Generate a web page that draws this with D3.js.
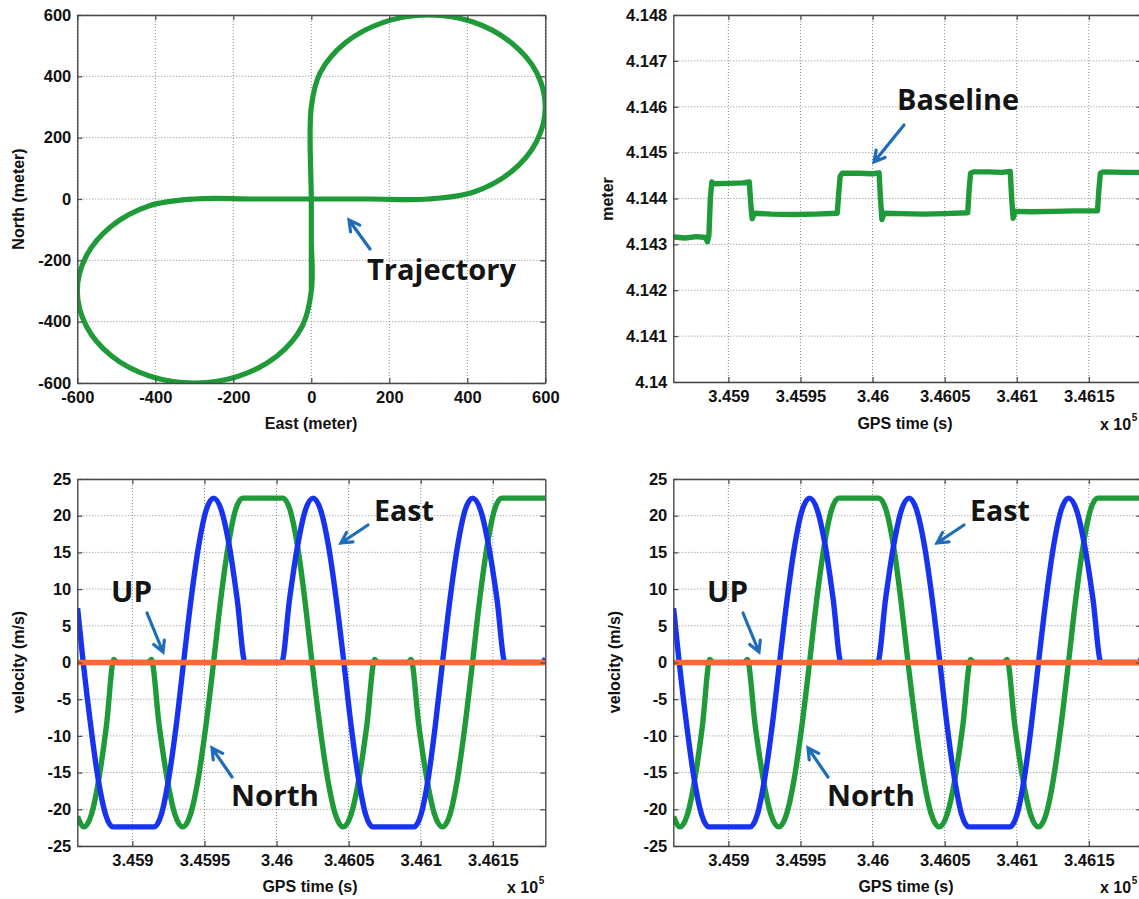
<!DOCTYPE html>
<html>
<head>
<meta charset="utf-8">
<script src="https://cdn.jsdelivr.net/npm/d3@7"></script>
<style>
  body { margin: 0; background: #fff; }
  svg { display: block; }
</style>
</head>
<body>
<svg id="fig" width="1139" height="899"></svg>
<script>
// ---------- Trajectory (figure eight), metres ----------
const trajEast  = [0, 0, 0, 0, 23, 88, 185, 300, 415, 512, 577, 600, 577, 512, 415, 300, 150,
                   0, -150, -300, -415, -512, -577, -600, -577, -512, -415, -300, -185, -88, -23, 0, 0];
const trajNorth = [-300, -150, 0, 300, 412, 510, 576, 600, 577, 510, 414, 300, 186, 88, 22, 0, 0,
                   0, 0, 0, -22, -88, -186, -300, -414, -512, -577, -600, -577, -512, -414, -300, -150];
const posTicks = [-600, -400, -200, 0, 200, 400, 600];
const posTickLabels = ["-600", "-400", "-200", "0", "200", "400", "600"];

// ---------- GPS time axis ----------
const timeDomain = [345861.8, 346186.4];
const timeTicks = [345900, 345950, 346000, 346050, 346100, 346150];
const timeTickLabels = ["3.459", "3.4595", "3.46", "3.4605", "3.461", "3.4615"];

// ---------- Baseline length, metres ----------
const baseTime = [345862, 345870, 345878, 345884, 345885.5, 345886.5, 345887.5, 345888.5, 345890, 345900, 345910, 345914.5,
                  345915.5, 345916.5, 345918, 345930, 345945, 345960, 345975.5, 345976.5, 345977.5, 345979, 345990, 346000,
                  346004.5, 346005.5, 346006.5, 346008, 346020, 346035, 346050, 346066, 346067, 346068, 346070, 346080,
                  346090, 346095.5, 346096.5, 346097.5, 346099, 346110, 346125, 346140, 346156, 346157, 346158, 346160,
                  346175, 346186.4];
const baseValue = [4.14316, 4.14314, 4.14317, 4.14315, 4.14306, 4.14320, 4.14400, 4.14436, 4.14432, 4.14433, 4.14434, 4.14436,
                   4.14390, 4.14356, 4.14368, 4.14366, 4.14365, 4.14366, 4.14368, 4.14410, 4.14448, 4.14455, 4.14455, 4.14454,
                   4.14456, 4.14400, 4.14354, 4.14368, 4.14367, 4.14366, 4.14367, 4.14369, 4.14420, 4.14455, 4.14458, 4.14458,
                   4.14457, 4.14459, 4.14400, 4.14357, 4.14372, 4.14371, 4.14372, 4.14373, 4.14373, 4.14420, 4.14455, 4.14458,
                   4.14457, 4.14457];
const baseTicks = [4.140, 4.141, 4.142, 4.143, 4.144, 4.145, 4.146, 4.147, 4.148];
const baseTickLabels = ["4.14", "4.141", "4.142", "4.143", "4.144", "4.145", "4.146", "4.147", "4.148"];

// ---------- Velocities, m/s ----------
const eastTime = [345862.0, 345865.9, 345871.1, 345876.2, 345881.4, 345886.5, 345914.9, 345920.1, 345925.2, 345930.4,
                  345935.5, 345940.7, 345945.9, 345951.1, 345956.3, 345961.8, 345967.3, 345972.7, 345978.2, 346003.5,
                  346009.0, 346014.5, 346019.9, 346025.4, 346030.7, 346036.1, 346041.4, 346046.7, 346051.7, 346056.8,
                  346061.8, 346066.8, 346095.2, 346100.2, 346105.2, 346110.1, 346115.1, 346120.3, 346125.5, 346130.7,
                  346135.9, 346141.6, 346147.2, 346152.9, 346158.5, 346185.0, 346186.4];
const eastVel  = [7.4, 0, -8.6, -15.8, -20.7, -22.4, -22.4, -20.7, -15.8, -8.6,
                  0, 8.6, 15.8, 20.7, 22.4, 20.7, 15.8, 8.6, 0, 0,
                  8.6, 15.8, 20.7, 22.4, 20.7, 15.8, 8.6, 0, -8.6, -15.8,
                  -20.7, -22.4, -22.4, -20.7, -15.8, -8.6, 0, 8.6, 15.8, 20.7,
                  22.4, 20.7, 15.8, 8.6, 0, 0, 0.6];

const northTime = [345862.0, 345866.4, 345871.6, 345876.8, 345882.0, 345887.2, 345889.5, 345911.0, 345913.1, 345918.6,
                   345924.1, 345929.5, 345935.0, 345940.3, 345945.7, 345951.0, 345956.3, 345961.3, 345966.4, 345971.4,
                   345976.4, 346004.5, 346009.5, 346014.6, 346019.6, 346024.6, 346030.0, 346035.4, 346040.8, 346046.2,
                   346051.7, 346057.2, 346062.6, 346068.1, 346070.4, 346091.0, 346093.2, 346098.7, 346104.2, 346109.6,
                   346115.1, 346120.3, 346125.5, 346130.7, 346135.9, 346140.9, 346146.0, 346151.0, 346156.0, 346186.4];
const northVel  = [-21.0, -22.4, -20.7, -15.8, -8.6, 0.4, 0, 0, 0.4, -8.6,
                   -15.8, -20.7, -22.4, -20.7, -15.8, -8.6, 0, 8.6, 15.8, 20.7,
                   22.4, 22.4, 20.7, 15.8, 8.6, 0, -8.6, -15.8, -20.7, -22.4,
                   -20.7, -15.8, -8.6, 0.4, 0, 0, 0.4, -8.6, -15.8, -20.7,
                   -22.4, -20.7, -15.8, -8.6, 0, 8.6, 15.8, 20.7, 22.4, 22.4];

const upTime = [345861.8, 345950, 346050, 346186.4];
const upVel  = [0, 0, 0, 0];

const velTicks = [-25, -20, -15, -10, -5, 0, 5, 10, 15, 20, 25];
const velTickLabels = ["-25", "-20", "-15", "-10", "-5", "0", "5", "10", "15", "20", "25"];

// ---------- styling ----------
const GREEN = "#1f9a38";
const BLUE = "#1733f0";
const ORANGE = "#ff6633";
const ARROW = "#1f6db8";
const AXIS = "#474747";
const LABEL_FONT = "'Liberation Sans', Arial, sans-serif";
const NOTE_FONT = "'Open Sans', 'Noto Sans', sans-serif";

const svg = d3.select("#fig");
const W = 468;

function zip(xs, ys) { return xs.map((v, i) => [v, ys[i]]); }

function makePanel(id, left, top, h, x, y, xt, xl, yt, yl) {
  x.range([0, W]);
  y.range([h, 0]);
  const g = svg.append("g").attr("transform", `translate(${left},${top})`);
  g.append("clipPath").attr("id", id).append("rect").attr("width", W).attr("height", h);

  const grid = g.append("g")
    .attr("stroke", "#8a8a8a").attr("stroke-width", 1).attr("stroke-dasharray", "1,2");
  grid.selectAll("line.gx").data(xt).join("line").attr("class", "gx")
    .attr("x1", d => x(d)).attr("x2", d => x(d)).attr("y1", 0).attr("y2", h);
  grid.selectAll("line.gy").data(yt).join("line").attr("class", "gy")
    .attr("y1", d => y(d)).attr("y2", d => y(d)).attr("x1", 0).attr("x2", W);

  const plot = g.append("g").attr("clip-path", `url(#${id})`);

  const styleAxis = s => {
    s.attr("font-family", LABEL_FONT).attr("font-size", 16.5).attr("font-weight", "bold");
    s.selectAll("path.domain").attr("stroke", AXIS).attr("stroke-width", 1.4);
    s.selectAll(".tick line").attr("stroke", AXIS).attr("stroke-width", 1.2);
    s.selectAll(".tick text").attr("fill", "#111");
  };
  const axes = g.append("g");
  axes.append("g").attr("transform", `translate(0,${h})`)
    .call(d3.axisBottom(x).tickValues(xt).tickFormat((d, i) => xl[i]).tickSize(-5).tickSizeOuter(0).tickPadding(8))
    .call(styleAxis);
  axes.append("g")
    .call(d3.axisTop(x).tickValues(xt).tickFormat("").tickSize(-5).tickSizeOuter(0))
    .call(styleAxis);
  axes.append("g")
    .call(d3.axisLeft(y).tickValues(yt).tickFormat((d, i) => yl[i]).tickSize(-5).tickSizeOuter(0).tickPadding(6))
    .call(styleAxis);
  axes.append("g").attr("transform", `translate(${W},0)`)
    .call(d3.axisRight(y).tickValues(yt).tickFormat("").tickSize(-5).tickSizeOuter(0))
    .call(styleAxis);
  return { g, plot, axes, x, y, h };
}

function axisTitle(text, x, y, rotate) {
  const t = svg.append("text")
    .attr("font-family", LABEL_FONT).attr("font-size", 16).attr("font-weight", "bold")
    .attr("fill", "#111").attr("text-anchor", "middle").text(text);
  if (rotate) t.attr("transform", `translate(${x},${y}) rotate(-90)`).attr("dy", "0.35em");
  else t.attr("x", x).attr("y", y);
}

function exponent(x, y) {
  const t = svg.append("text")
    .attr("font-family", LABEL_FONT).attr("font-size", 16).attr("font-weight", "bold")
    .attr("fill", "#111").attr("x", x).attr("y", y);
  t.append("tspan").text("x 10");
  t.append("tspan").attr("font-size", 10).attr("dy", -9).attr("dx", 0.5).text("5");
}

function note(text, x, baseline, width) {
  svg.append("text")
    .attr("font-family", NOTE_FONT).attr("font-weight", 700).attr("font-size", 29)
    .attr("fill", "#141414").attr("x", x).attr("y", baseline)
    .attr("textLength", width).attr("lengthAdjust", "spacingAndGlyphs")
    .text(text);
}

function arrow(x1, y1, x2, y2) {
  const a = Math.atan2(y2 - y1, x2 - x1);
  const L = 12, spread = 0.5;
  const p = d3.path();
  p.moveTo(x1, y1); p.lineTo(x2, y2);
  p.moveTo(x2 - L * Math.cos(a - spread), y2 - L * Math.sin(a - spread));
  p.lineTo(x2, y2);
  p.lineTo(x2 - L * Math.cos(a + spread), y2 - L * Math.sin(a + spread));
  svg.append("path").attr("d", p.toString())
    .attr("fill", "none").attr("stroke", ARROW).attr("stroke-width", 3.2)
    .attr("stroke-linecap", "round").attr("stroke-linejoin", "miter");
}

// ---------- Panel 1: trajectory ----------
{
  const P = makePanel("clipTraj", 77.3, 15, 368,
    d3.scaleLinear().domain([-600, 600]), d3.scaleLinear().domain([-600, 600]),
    posTicks, posTickLabels, posTicks, posTickLabels);
  const line = d3.line().x(d => P.x(d[0])).y(d => P.y(d[1])).curve(d3.curveCatmullRomClosed.alpha(0.5));
  P.plot.append("path").datum(zip(trajEast, trajNorth))
    .attr("d", line).attr("fill", "none").attr("stroke", GREEN).attr("stroke-width", 5.2)
    .attr("stroke-linejoin", "round");
  P.axes.raise();
  axisTitle("East (meter)", 311, 429);
  axisTitle("North (meter)", 18, 199, true);
  note("Trajectory", 367, 280, 149);
  arrow(370, 249, 349, 220);
}

// ---------- Panel 2: baseline ----------
{
  const P = makePanel("clipBase", 673.3, 15, 367,
    d3.scaleLinear().domain(timeDomain), d3.scaleLinear().domain([4.140, 4.148]),
    timeTicks, timeTickLabels, baseTicks, baseTickLabels);
  const line = d3.line().x(d => P.x(d[0])).y(d => P.y(d[1])).curve(d3.curveLinear);
  P.plot.append("path").datum(zip(baseTime, baseValue))
    .attr("d", line).attr("fill", "none").attr("stroke", GREEN).attr("stroke-width", 5.4)
    .attr("stroke-linejoin", "round");
  P.axes.raise();
  axisTitle("GPS time (s)", 905, 429);
  axisTitle("meter", 607, 199, true);
  exponent(1100, 430);
  note("Baseline", 897, 110, 122);
  arrow(904, 125, 874, 162);
}

// ---------- Panels 3 & 4: velocities ----------
function velocityPanel(id, left) {
  const P = makePanel(id, left, 479, 367,
    d3.scaleLinear().domain(timeDomain), d3.scaleLinear().domain([-25, 25]),
    timeTicks, timeTickLabels, velTicks, velTickLabels);
  const line = d3.line().x(d => P.x(d[0])).y(d => P.y(d[1])).curve(d3.curveMonotoneX);
  P.plot.append("path").datum(zip(northTime, northVel))
    .attr("d", line).attr("fill", "none").attr("stroke", GREEN).attr("stroke-width", 5.4);
  P.plot.append("path").datum(zip(eastTime, eastVel))
    .attr("d", line).attr("fill", "none").attr("stroke", BLUE).attr("stroke-width", 5.4);
  P.plot.append("path").datum(zip(upTime, upVel))
    .attr("d", line).attr("fill", "none").attr("stroke", ORANGE).attr("stroke-width", 5.4);
  P.axes.raise();
  const dx = left - 77.3;
  axisTitle("GPS time (s)", 310 + dx, 892);
  axisTitle("velocity (m/s)", 18 + dx, 662, true);
  exponent(Math.min(507 + dx, 1100), 893);
  note("East", 374 + dx, 521, 60);
  arrow(368 + dx, 525, 341 + dx, 543);
  note("UP", 111 + dx, 602, 41);
  arrow(147 + dx, 613, 163 + dx, 652);
  note("North", 231 + dx, 806, 88);
  arrow(232 + dx, 777, 212 + dx, 748);
}
velocityPanel("clipVelA", 77.3);
velocityPanel("clipVelB", 673.3);
</script>
</body>
</html>
